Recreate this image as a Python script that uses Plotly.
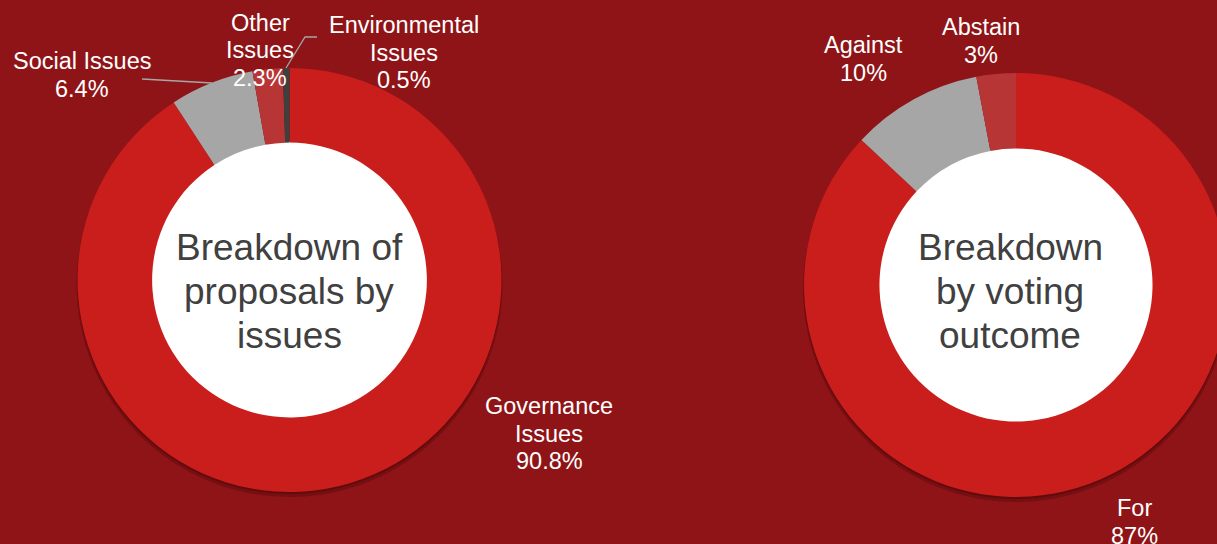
import plotly.graph_objects as go

# ---- data -------------------------------------------------------------
issue_labels = ["Governance Issues", "Social Issues", "Other Issues", "Environmental Issues"]
issue_values = [90.8, 6.4, 2.3, 0.5]
issue_text = [["Governance", "Issues"], ["Social Issues"], ["Other", "Issues"], ["Environmental", "Issues"]]

vote_labels = ["For", "Against", "Abstain"]
vote_values = [87, 10, 3]
vote_text = [["For"], ["Against"], ["Abstain"]]

# ---- styling ----------------------------------------------------------
W, H = 1232, 544
BG = "#8F1417"
RED = "#C91E1B"
GREY = "#A6A6A6"
DARK_RED = "#B73535"
CHARCOAL = "#3F3F3F"
issue_colors = [RED, GREY, DARK_RED, CHARCOAL]
vote_colors = [RED, GREY, DARK_RED]

LABEL_FONT = dict(family="Arial, Liberation Sans, sans-serif", size=23.5, color="white")
CENTER_FONT = dict(family="Arial, Liberation Sans, sans-serif", size=37, color="#404040")
LABEL_STEP = 27.5

# donut geometry in pixels: centre x, centre y, outer radius, hole fraction
left_geo = (289.5, 280, 212, 0.648)
right_geo = (1016, 285, 212, 0.644)

# label positions in pixels (centre of the first text line)
issue_label_pos = [(549, 406), (82, 61), (260, 23), (404, 25)]
vote_label_pos = [(1134, 508), (863, 45), (981, 27)]


def px(x, y):
    return x / W, 1 - y / H


def domain(geo):
    cx, cy, r, _ = geo
    return dict(x=[(cx - r) / W, (cx + r) / W],
                y=[1 - (cy + r) / H, 1 - (cy - r) / H])


def circle(cx, cy, r, **kw):
    x0, y0 = px(cx - r, cy + r)
    x1, y1 = px(cx + r, cy - r)
    return dict(type="circle", xref="paper", yref="paper",
                x0=x0, y0=y0, x1=x1, y1=y1, **kw)


fig = go.Figure()
for labels, values, colors, geo in [
    (issue_labels, issue_values, issue_colors, left_geo),
    (vote_labels, vote_values, vote_colors, right_geo),
]:
    fig.add_trace(go.Pie(
        labels=labels, values=values, hole=geo[3], sort=False,
        direction="clockwise", rotation=0, domain=domain(geo),
        marker=dict(colors=colors, line=dict(width=0)),
        textinfo="none", hoverinfo="label+percent", showlegend=False,
    ))

shapes = []
for geo in (left_geo, right_geo):
    cx, cy, r, hole = geo
    # soft drop shadow, mostly below the ring
    shapes.append(circle(cx, cy + 4, r + 1, fillcolor="rgba(70,5,8,0.35)",
                         line=dict(width=0), layer="below"))
    shapes.append(circle(cx, cy + 2, r, fillcolor="rgba(70,5,8,0.4)",
                         line=dict(width=0), layer="below"))
    # white disc showing through the hole
    shapes.append(circle(cx, cy, r * hole + 1, fillcolor="white",
                         line=dict(width=0), layer="below"))

# leader lines for the small slices
a = px(142, 79); b = px(212, 83)
shapes.append(dict(type="line", xref="paper", yref="paper", x0=a[0], y0=a[1],
                   x1=b[0], y1=b[1], line=dict(color=GREY, width=1.3)))
p1 = px(286, 68); p2 = px(305, 37); p3 = px(317, 37)
shapes.append(dict(type="path", xref="paper", yref="paper",
                   path=f"M {p1[0]},{p1[1]} L {p2[0]},{p2[1]} L {p3[0]},{p3[1]}",
                   line=dict(color=GREY, width=1.3)))

annotations = []


def add_line(text, x, y, font):
    xx, yy = px(x, y)
    annotations.append(dict(text=text, x=xx, y=yy, xref="paper", yref="paper",
                            xanchor="center", yanchor="middle", showarrow=False,
                            font=font))


for lines, val, (x, y) in list(zip(issue_text, issue_values, issue_label_pos)) + \
        list(zip(vote_text, vote_values, vote_label_pos)):
    for i, line in enumerate(lines + [f"{val:g}%"]):
        add_line(line, x, y + i * LABEL_STEP, LABEL_FONT)

center_lines = [
    (["Breakdown of", "proposals by", "issues"], 289, [247, 291, 335]),
    (["Breakdown", "by voting", "outcome"], 1010, [247, 291, 335]),
]
for lines, cx, ys in center_lines:
    for line, y in zip(lines, ys):
        add_line(line, cx, y, CENTER_FONT)

fig.update_layout(
    width=W, height=H,
    margin=dict(l=0, r=0, t=0, b=0),
    paper_bgcolor=BG, plot_bgcolor=BG,
    shapes=shapes, annotations=annotations,
    showlegend=False,
)

fig.write_html(
    "out.html",
    post_script="document.documentElement.style.overflow='hidden';"
                "document.body.style.overflow='hidden';document.body.style.margin='0';",
)
